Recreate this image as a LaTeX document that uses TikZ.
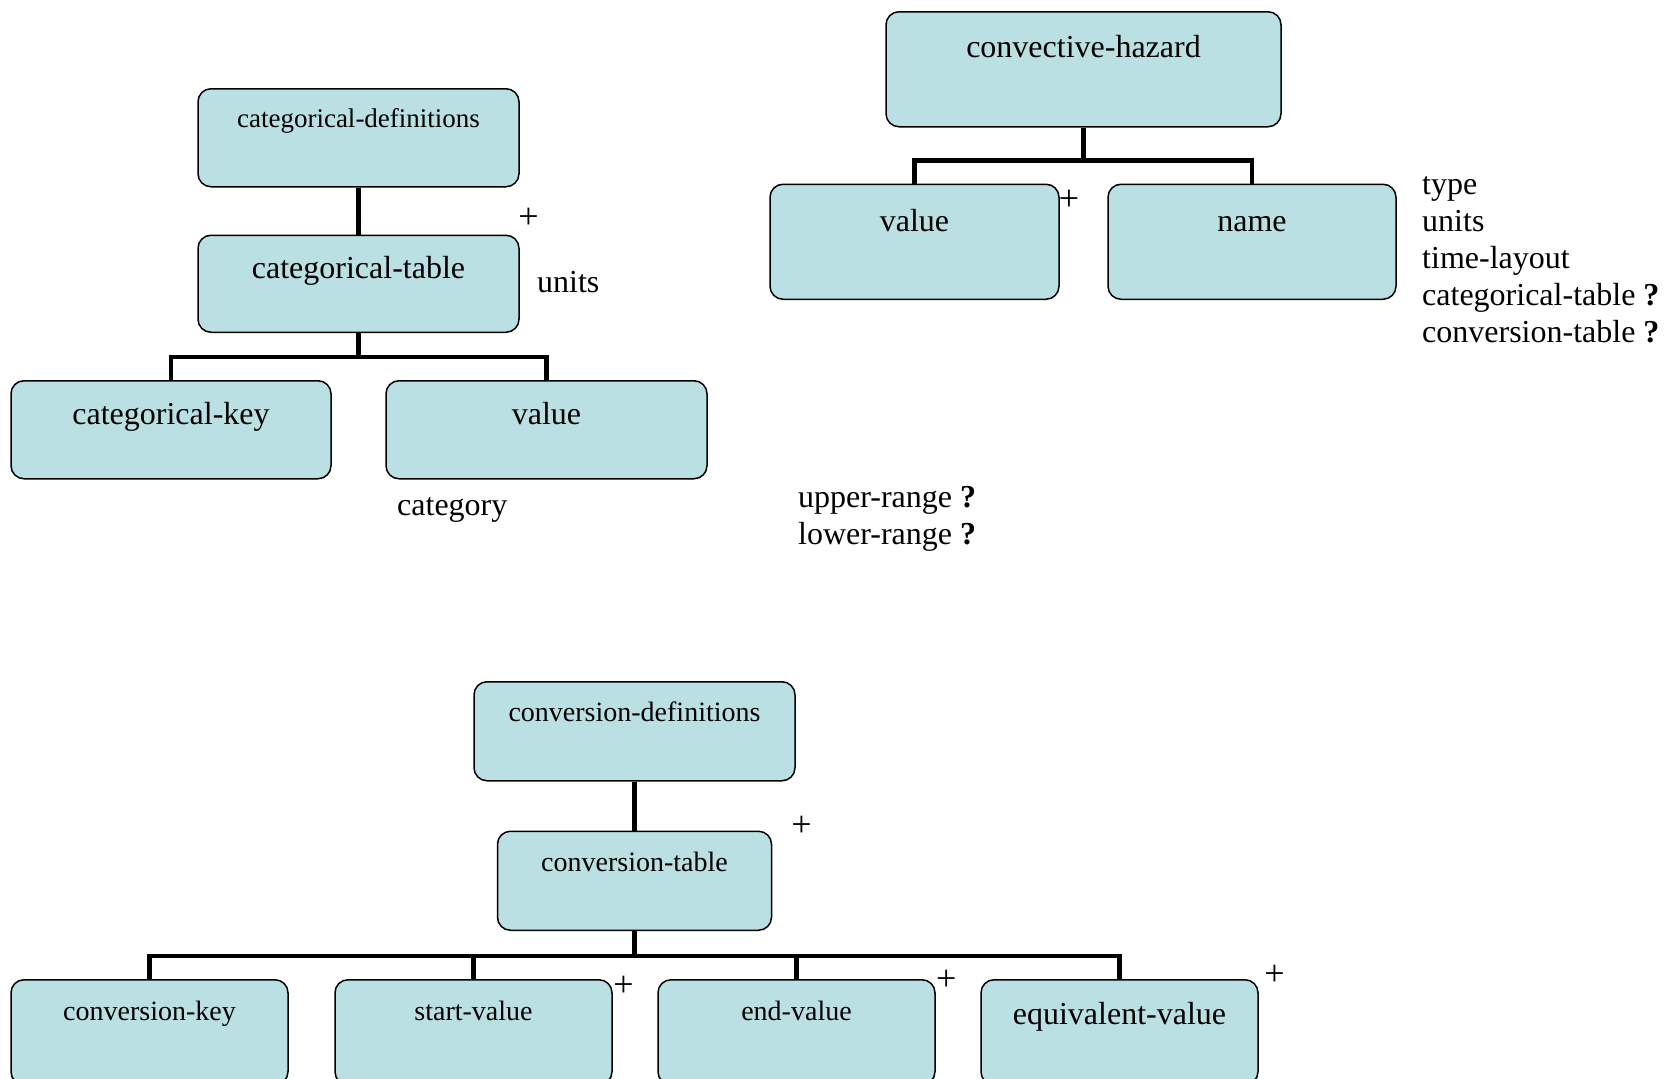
\documentclass[tikz,border=0pt]{standalone}
\usepackage{fontspec}
\setmainfont{Liberation Serif}
\usetikzlibrary{positioning}
\definecolor{boxfill}{RGB}{187,224,227}

\newcommand{\bigtxt}{\fontsize{32}{36.8}\selectfont}
\newcommand{\smalltxt}{\fontsize{28}{32}\selectfont}

\tikzset{
  box/.style={draw, rounded corners=13pt, fill=boxfill, line width=1.5pt, inner sep=0pt, align=center},
  link/.style={line width=4.5pt},
  note/.style={inner sep=0pt, font=\bigtxt},
  plus/.style={inner sep=0pt, font=\fontsize{36}{40}\selectfont},
}

\begin{document}
\begin{tikzpicture}[x=1pt, y=-1pt]
\useasboundingbox (0,0) rectangle (1671,1079);

% categorical definitions
\node[box, anchor=north, minimum width=321pt, text height=39pt, text depth=59pt, font=\fontsize{27}{30}\selectfont] (catdef) at (358.5,88) {categorical-definitions};
\node[box, below=47pt of catdef, minimum width=321pt, text height=43pt, text depth=54pt, font=\bigtxt] (cattable) {categorical-table};
\node[box, below=47pt of cattable, xshift=-187.5pt, minimum width=320pt, text height=44pt, text depth=54pt, font=\bigtxt] (catkey) {categorical-key};
\node[box, below=47pt of cattable, xshift=188pt, minimum width=321pt, text height=44pt, text depth=54pt, font=\bigtxt] (catval) {value};
\draw[link] (catdef) -- (cattable);
\draw[link] (cattable.south) -- ++(0,24) -| (catkey.north);
\draw[link] (cattable.south) -- ++(0,24) -| (catval.north);
\node[plus] (catplus) at (528.6,218) {+};
\node[note, anchor=base west] (catunits) at (537,292) {units};
\node[note, anchor=base west] (catcat) at (397,515) {category};

% convective hazard
\node[box, anchor=north, minimum width=395pt, text height=46pt, text depth=69pt, font=\bigtxt] (hazard) at (1083.5,11) {convective-hazard};
\node[box, below=56pt of hazard, xshift=-169pt, minimum width=289pt, text height=47pt, text depth=68pt, font=\bigtxt] (hazval) {value};
\node[box, below=56pt of hazard, xshift=168.5pt, minimum width=288pt, text height=47pt, text depth=68pt, font=\bigtxt] (hazname) {name};
\draw[link] (hazard.south) -- ++(0,33) -| (hazval.north);
\draw[link] (hazard.south) -- ++(0,33) -| (hazname.north);
\node[plus] (hazplus) at (1068.9,200.5) {+};
\foreach \t [count=\i] in {type, units, time-layout, categorical-table \textbf{?}, conversion-table \textbf{?}}
  \node[note, anchor=base west] (attr\i) at ({1422},{194+37.1*(\i-1)}) {\t};
\node[note, anchor=base west] (upper) at (798,507) {upper-range \textbf{?}};
\node[note, anchor=base west] (lower) at (798,544) {lower-range \textbf{?}};

% conversion definitions
\node[box, anchor=north, minimum width=321pt, text height=40pt, text depth=59pt, font=\smalltxt] (convdef) at (634.5,681) {conversion-definitions};
\node[box, below=49pt of convdef, minimum width=274pt, text height=40pt, text depth=59pt, font=\smalltxt] (convtable) {conversion-table};
\node[box, below=48pt of convtable, xshift=-485pt, minimum width=277pt, text height=41pt, text depth=64pt, font=\smalltxt] (convkey) {conversion-key};
\node[box, below=48pt of convtable, xshift=-161pt, minimum width=277pt, text height=41pt, text depth=64pt, font=\smalltxt] (startval) {start-value};
\node[box, below=48pt of convtable, xshift=162pt, minimum width=277pt, text height=41pt, text depth=64pt, font=\smalltxt] (endval) {end-value};
\node[box, below=48pt of convtable, xshift=485pt, minimum width=277pt, text height=45pt, text depth=60pt, font=\bigtxt] (equival) {equivalent-value};
\draw[link] (convdef) -- (convtable);
\foreach \c in {convkey, startval, endval, equival}
  \draw[link] (convtable.south) -- ++(0,25) -| (\c.north);
\node[plus] (convplus) at (801.4,826) {+};
\node[plus] (startplus) at (623.4,986) {+};
\node[plus] (endplus) at (946.3,980.5) {+};
\node[plus] (equiplus) at (1274.6,975.5) {+};
\end{tikzpicture}
\end{document}
